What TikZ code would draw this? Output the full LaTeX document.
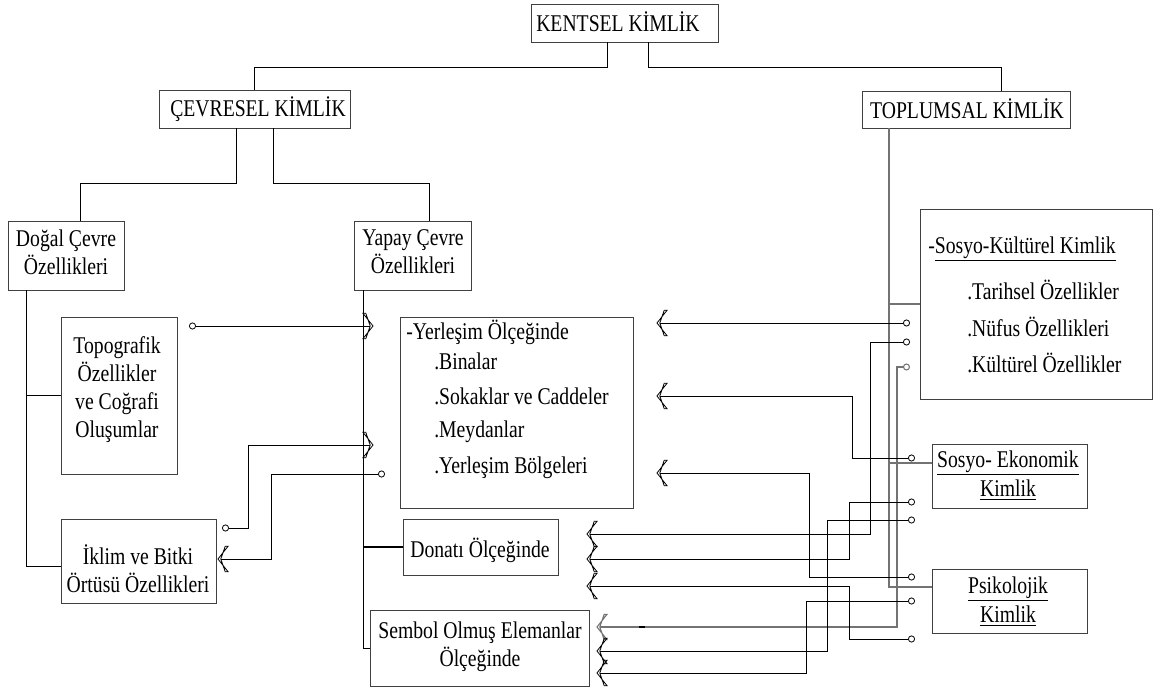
\documentclass[tikz,border=0pt]{standalone}
\usepackage{fontspec}
\setmainfont{Liberation Serif}[FakeStretch=0.82]
\usetikzlibrary{arrows.meta}
% outlined chevron tip
\pgfdeclarearrow{
  name = Chev,
  parameters = {\the\pgfarrowlength,\the\pgfarrowwidth},
  setup code = {
    \pgfarrowssettipend{\pgfarrowlength}
    \pgfarrowssetlineend{.72\pgfarrowlength}
    \pgfarrowssavethe\pgfarrowlength
    \pgfarrowssavethe\pgfarrowwidth
  },
  drawing code = {
    \pgfpathmoveto{\pgfqpoint{\pgfarrowlength}{0pt}}
    \pgfpathlineto{\pgfqpoint{0pt}{.5\pgfarrowwidth}}
    \pgfpathlineto{\pgfqpoint{.28\pgfarrowlength}{.5\pgfarrowwidth}}
    \pgfpathlineto{\pgfqpoint{.72\pgfarrowlength}{0pt}}
    \pgfpathlineto{\pgfqpoint{.28\pgfarrowlength}{-.5\pgfarrowwidth}}
    \pgfpathlineto{\pgfqpoint{0pt}{-.5\pgfarrowwidth}}
    \pgfpathclose
    \pgfusepathqstroke
  },
  defaults = {length = 7.5pt, width = 19pt}
}
\tikzset{
  box/.style={draw=black!75, line width=0.7pt, inner sep=0pt},
  txt/.style={inner sep=0.75pt, font=\fontsize{18}{21}\selectfont, align=center},
  link/.style={line width=0.6pt, {Circle[open,length=5.25pt,width=5.25pt]}-{Chev[length=7.5pt,width=19pt]}},
  bus/.style={draw=black!55, line width=0.8pt},
}
\begin{document}
\begin{tikzpicture}[x=0.75pt,y=0.75pt,yscale=-1,xscale=1]
\useasboundingbox (0,0) rectangle (1154,688);

%Shape: Rectangle
\node[box, minimum width=140.25pt, minimum height=28.5pt] (kentsel) at (624.5,23) {};
\node[box, minimum width=143.25pt, minimum height=28.5pt] (cevresel) at (254.5,109) {};
\node[box, minimum width=156pt, minimum height=27.75pt] (toplumsal) at (966,109.5) {};
\node[box, minimum width=87pt, minimum height=51.75pt] (dogal) at (66,255.5) {};
\node[box, minimum width=87.75pt, minimum height=51.75pt] (yapay) at (412.5,255.5) {};
\node[box, minimum width=87pt, minimum height=117.75pt] (topografik) at (119,395.5) {};
\node[box, minimum width=116.25pt, minimum height=63pt] (iklim) at (138.5,561) {};
\node[box, minimum width=174.75pt, minimum height=143.25pt] (yerlesim) at (516.5,412.5) {};
\node[box, minimum width=116.25pt, minimum height=42pt] (donati) at (480.5,547) {};
\node[box, minimum width=164.25pt, minimum height=57pt] (sembol) at (479.5,648) {};
\node[box, minimum width=174pt, minimum height=142.5pt] (sosyokul) at (1036,304) {};
\node[box, minimum width=116.25pt, minimum height=48pt] (ekonomik) at (1009.5,476) {};
\node[box, minimum width=116.25pt, minimum height=48pt] (psikolojik) at (1009.5,601) {};

% Text Node
\node[txt] (kentselT) at (618,22) {KENTSEL KİMLİK};
\node[txt] (cevreselT) at (258,109) {ÇEVRESEL KİMLİK};
\node[txt] (toplumsalT) at (967,109) {TOPLUMSAL KİMLİK};
\node[txt] (dogalT) at (66,252) {Doğal Çevre\\Özellikleri};
\node[txt] (yapayT) at (413,252) {Yapay Çevre\\Özellikleri};
\node[txt] (topografikT) at (117,390) {Topografik\\Özellikler\\ve Coğrafi\\Oluşumlar};
\node[txt] (iklimT) at (138,569) {İklim ve Bitki\\Örtüsü Özellikleri};
\node[txt, anchor=west] (yer0) at (405,332) {-Yerleşim Ölçeğinde};
\node[txt, anchor=west] (yer1) at (433,361) {.Binalar};
\node[txt, anchor=west] (yer2) at (433,396) {.Sokaklar ve Caddeler};
\node[txt, anchor=west] (yer3) at (433,432) {.Meydanlar};
\node[txt, anchor=west] (yer4) at (433,468) {.Yerleşim Bölgeleri};
\node[txt] (donatiT) at (480,550) {Donatı Ölçeğinde};
\node[txt] (sembolT) at (480,647) {Sembol Olmuş Elemanlar\\Ölçeğinde};
\node[txt, anchor=west] (kul0) at (927,249) {-\underline{Sosyo-Kültürel Kimlik}};
\node[txt, anchor=west] (kul1) at (966,290) {.Tarihsel Özellikler};
\node[txt, anchor=west] (kul2) at (966,327) {.Nüfus Özellikleri};
\node[txt, anchor=west] (kul3) at (966,363) {.Kültürel Özellikler};
\node[txt] (ekoT1) at (1008,463) {\underline{Sosyo- Ekonomik}};
\node[txt] (ekoT2) at (1008,490) {\underline{Kimlik}};
\node[txt] (psiT1) at (1008,589) {\underline{Psikolojik}};
\node[txt] (psiT2) at (1008,616) {\underline{Kimlik}};

%Straight Lines
\draw[line width=0.6pt] (kentsel.south -| 607,0) -- ++(0,25) -| (cevresel.north);
\draw[line width=0.6pt] (kentsel.south -| 648,0) -- ++(0,25) -| (toplumsal.north -| 1001,0);
\draw[line width=0.6pt] (cevresel.south -| 236,0) -- ++(0,55) -| (dogal.north -| 80,0);
\draw[line width=0.6pt] (cevresel.south -| 273,0) -- ++(0,55) -| (yapay.north -| 429,0);
\draw[line width=0.6pt] (dogal.south -| 26,0) |- (topografik.west);
\draw[line width=0.6pt] (dogal.south -| 26,0) |- ([yshift=3.75pt]iklim.west);
\draw[line width=0.6pt] (yapay.south -| 363,0) |- (sembol.west);
\draw[line width=1.2pt] (donati.west -| 363,0) -- (donati.west);
\draw[bus] (toplumsal.south -| 889,0) |- (sosyokul.west);
\draw[bus] (toplumsal.south -| 889,0) |- ([yshift=-9.75pt]ekonomik.west);
\draw[bus] (toplumsal.south -| 889,0) |- ([yshift=-10.5pt]psikolojik.west);

% circle ends
\coordinate (t1) at (189,326);
\coordinate (t2) at (222,528);
\coordinate (t3) at (385,474);
\coordinate (s1) at (910,323);
\coordinate (s2) at (910,342);
\coordinate (s3) at (910,367);
\coordinate (e1) at (915,458);
\coordinate (e2) at (915,502);
\coordinate (e3) at (915,520);
\coordinate (p1) at (915,577);
\coordinate (p2) at (915,601);
\coordinate (p3) at (915,639);
% arrow ends
\coordinate (b1) at (373,326);
\coordinate (b2) at (373,445);
\coordinate (k1) at (218,559);
\coordinate (y1) at (657,323);
\coordinate (y2) at (657,396);
\coordinate (y3) at (657,473);
\coordinate (d1) at (587,534);
\coordinate (d2) at (587,559);
\coordinate (d3) at (587,586);
\coordinate (m1) at (597,627);
\coordinate (m2) at (597,651);
\coordinate (m3) at (597,673);

%Connectors
\draw[link] (t1) -- (b1);
\draw[link] (t2) -| (248,445) -- (b2);
\draw[link] (t3) -| (271,559) -- (k1);
\draw[link] (s1) -- (y1);
\draw[link] (s2) -| (870,534) -- (d1);
\draw[link, bus] (s3) -| (897,627) -- (m1);
\draw[link] (e1) -| (852,396) -- (y2);
\draw[link] (e2) -| (849,559) -- (d2);
\draw[link] (e3) -| (827,651) -- (m2);
\draw[link] (p1) -| (809,473) -- (y3);
\draw[link] (p2) -| (806,673) -- (m3);
\draw[link] (p3) -| (849,586) -- (d3);
\draw[line width=1.5pt] (639,627) -- (645,627);

\end{tikzpicture}
\end{document}
